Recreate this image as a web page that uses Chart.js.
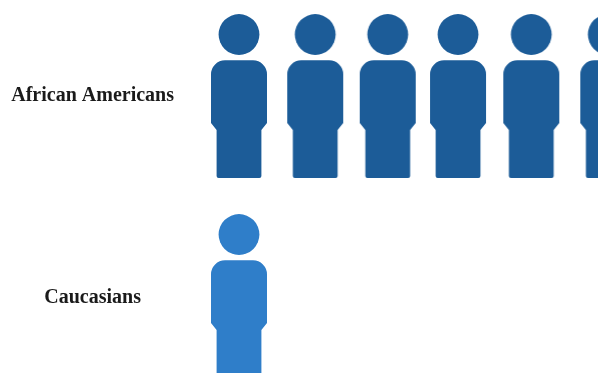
<!DOCTYPE html>
<html>
<head>
<meta charset="utf-8">
<title>Pictogram</title>
<script src="https://cdn.jsdelivr.net/npm/chart.js@4"></script>
<style>
    html, body { margin: 0; padding: 0; background: #fff; overflow: hidden; }
    #graph-box { position: absolute; left: 0; top: -44px; }
</style>
</head>
<body>
<canvas id="graph-box" width="683" height="480"></canvas>
<script>
const groups = ['African Americans', 'Caucasians'];
const africanAmericanSlots = [1, 2.03, 3.01, 3.96, 4.95, 5.99];
const caucasianSlots = [1];

// person icon, head + torso + legs, used as the point style
function personIcon(color) {
    const icon = document.createElement('canvas');
    icon.width = 60;
    icon.height = 168;
    const c = icon.getContext('2d');
    c.translate(2, 2);
    c.fillStyle = color;

    c.beginPath();
    c.arc(28, 20.5, 20.4, 0, Math.PI * 2);
    c.fill();

    c.beginPath();
    c.moveTo(14, 46.3);
    c.lineTo(42, 46.3);
    c.arcTo(56, 46.3, 56, 60.3, 14);
    c.lineTo(56, 109);
    c.lineTo(50.4, 116);
    c.lineTo(50.4, 162);
    c.arcTo(50.4, 164, 48.4, 164, 2);
    c.lineTo(7.6, 164);
    c.arcTo(5.6, 164, 5.6, 162, 2);
    c.lineTo(5.6, 116);
    c.lineTo(0, 109);
    c.lineTo(0, 60.3);
    c.arcTo(0, 46.3, 14, 46.3, 14);
    c.closePath();
    c.fill();
    return icon;
}

const ctx = document.getElementById('graph-box');

const myChart = new Chart(ctx, {
    type: 'scatter',
    data: {
        datasets: [
        {
            label: groups[0],
            data: africanAmericanSlots.map(x => ({ x: x, y: groups[0] })),
            pointStyle: personIcon('#1c5c98'),
            clip: false
        },
        {
            label: groups[1],
            data: caucasianSlots.map(x => ({ x: x, y: groups[1] })),
            pointStyle: personIcon('#2f7ec9'),
            clip: false
        }]
    },
    options: {
        responsive: false,
        animation: false,
        layout: { autoPadding: false },
        plugins: {
            legend: { display: false },
            tooltip: { enabled: false }
        },
        scales: {
            x: {
                type: 'linear',
                display: false,
                min: 0.5,
                max: 7
            },
            y: {
                type: 'category',
                labels: groups,
                offset: true,
                display: false
            },
            // group names sit on their own axis, spaced a touch wider than the rows
            yLabels: {
                type: 'linear',
                axis: 'y',
                position: 'left',
                reverse: true,
                min: -0.495,
                max: 1.485,
                border: { display: false },
                grid: { display: false, drawTicks: false },
                afterBuildTicks: scale => { scale.ticks = groups.map((g, i) => ({ value: i })); },
                afterFit: scale => { scale.width = 202; },
                ticks: {
                    callback: value => groups[value],
                    crossAlign: 'center',
                    padding: 28,
                    color: '#1a1a1a',
                    font: { family: '"Liberation Serif"', size: 20, weight: 'bold' }
                }
            }
        }
    }
});
</script>
</body>
</html>
